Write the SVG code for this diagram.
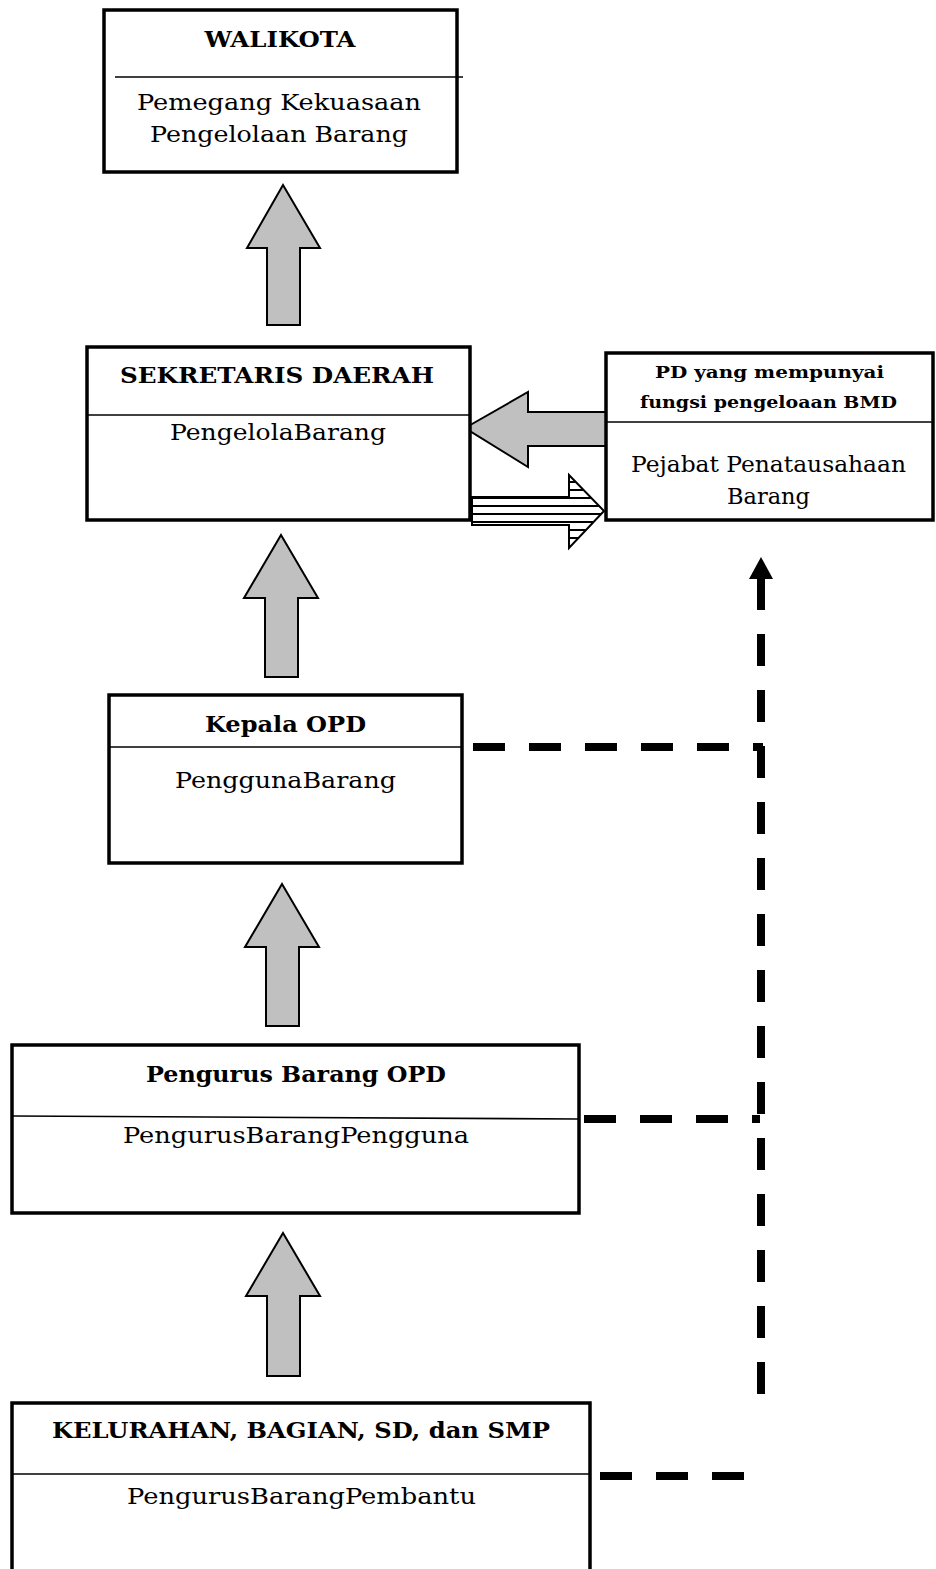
<svg xmlns="http://www.w3.org/2000/svg" width="936" height="1569" viewBox="0 0 936 1569">
<style>
.box{fill:#fff;stroke:#000;stroke-width:3.5}
.div{stroke:#000;stroke-width:1.6;fill:none}
.t{font-family:"DejaVu Serif","Liberation Serif",serif;font-weight:bold;font-size:22px;fill:#000;text-anchor:middle}
.b{font-family:"DejaVu Serif","Liberation Serif",serif;font-size:23px;fill:#000;text-anchor:middle}
.ga{fill:#c0c0c0;stroke:#000;stroke-width:2;stroke-linejoin:miter}
.dash{stroke:#000;stroke-width:8;fill:none;stroke-dasharray:32 24}
</style>
<defs>
<pattern id="hatch" patternUnits="userSpaceOnUse" width="10" height="8" y="1">
<rect width="10" height="8" fill="#fff"/>
<line x1="0" y1="1" x2="10" y2="1" stroke="#000" stroke-width="2"/>
</pattern>
</defs>

<g id="connectors">
<path class="ga" d="M283,185 L320,248 L300,248 L300,325 L267,325 L267,248 L247,248 Z"/>
<path class="ga" d="M281,535 L318,598 L298,598 L298,677 L265,677 L265,598 L244,598 Z"/>
<path class="ga" d="M282,884 L319,947 L299,947 L299,1026 L266,1026 L266,947 L245,947 Z"/>
<path class="ga" d="M283,1233 L320,1296 L300,1296 L300,1376 L267,1376 L267,1296 L246,1296 Z"/>
<path class="ga" d="M465,428 L528,392 L528,412 L606,412 L606,446 L528,446 L528,467 Z"/>
<path d="M472,497 L569,497 L569,475 L604,511 L569,548 L569,525 L472,525 Z" fill="url(#hatch)" stroke="#000" stroke-width="2"/>
<line class="dash" x1="473" y1="747" x2="763" y2="747"/>
<line class="dash" x1="584" y1="1119" x2="760" y2="1119"/>
<line class="dash" x1="600" y1="1476" x2="744" y2="1476"/>
<line class="dash" x1="761" y1="578" x2="761" y2="1394"/>
<polygon points="761,557 749,579 773,579" fill="#000"/>
</g>

<g id="walikota">
<rect class="box" x="104" y="10" width="353" height="162"/>
<line class="div" x1="115" y1="77" x2="463" y2="77"/>
<text class="t" x="280" y="47" textLength="151" lengthAdjust="spacingAndGlyphs">WALIKOTA</text>
<text class="b" x="279" y="110" textLength="284" lengthAdjust="spacingAndGlyphs">Pemegang Kekuasaan</text>
<text class="b" x="279" y="142" textLength="258" lengthAdjust="spacingAndGlyphs">Pengelolaan Barang</text>
</g>

<g id="sekretaris">
<rect class="box" x="87" y="347" width="383" height="173"/>
<line class="div" x1="87" y1="415" x2="470" y2="415"/>
<text class="t" x="277" y="383" textLength="314" lengthAdjust="spacingAndGlyphs">SEKRETARIS DAERAH</text>
<text class="b" x="278" y="440" textLength="216" lengthAdjust="spacingAndGlyphs">PengelolaBarang</text>
</g>

<g id="pd">
<rect class="box" x="606" y="353" width="327" height="167"/>
<line class="div" x1="606" y1="422" x2="933" y2="422"/>
<text class="t" x="769.5" y="378" style="font-size:17px" textLength="229" lengthAdjust="spacingAndGlyphs">PD yang mempunyai</text>
<text class="t" x="768.5" y="408" style="font-size:17px" textLength="257" lengthAdjust="spacingAndGlyphs">fungsi pengeloaan BMD</text>
<text class="b" x="768.5" y="472" textLength="275" lengthAdjust="spacingAndGlyphs">Pejabat Penatausahaan</text>
<text class="b" x="768.5" y="504" textLength="83" lengthAdjust="spacingAndGlyphs">Barang</text>
</g>

<g id="kepala">
<rect class="box" x="109" y="695" width="353" height="168"/>
<line class="div" x1="109" y1="747" x2="462" y2="747"/>
<text class="t" x="285.5" y="732" textLength="161" lengthAdjust="spacingAndGlyphs">Kepala OPD</text>
<text class="b" x="285.5" y="788" textLength="221" lengthAdjust="spacingAndGlyphs">PenggunaBarang</text>
</g>

<g id="pengurus">
<rect class="box" x="12" y="1045" width="567" height="168"/>
<line class="div" x1="12" y1="1116" x2="579" y2="1119"/>
<text class="t" x="296" y="1082" textLength="300" lengthAdjust="spacingAndGlyphs">Pengurus Barang OPD</text>
<text class="b" x="296" y="1143" textLength="346" lengthAdjust="spacingAndGlyphs">PengurusBarangPengguna</text>
</g>

<g id="kelurahan">
<rect class="box" x="12" y="1403" width="578" height="180"/>
<line class="div" x1="12" y1="1474" x2="590" y2="1474"/>
<text class="t" x="301" y="1438" textLength="498" lengthAdjust="spacingAndGlyphs">KELURAHAN, BAGIAN, SD, dan SMP</text>
<text class="b" x="301.5" y="1504" textLength="349" lengthAdjust="spacingAndGlyphs">PengurusBarangPembantu</text>
</g>
</svg>
